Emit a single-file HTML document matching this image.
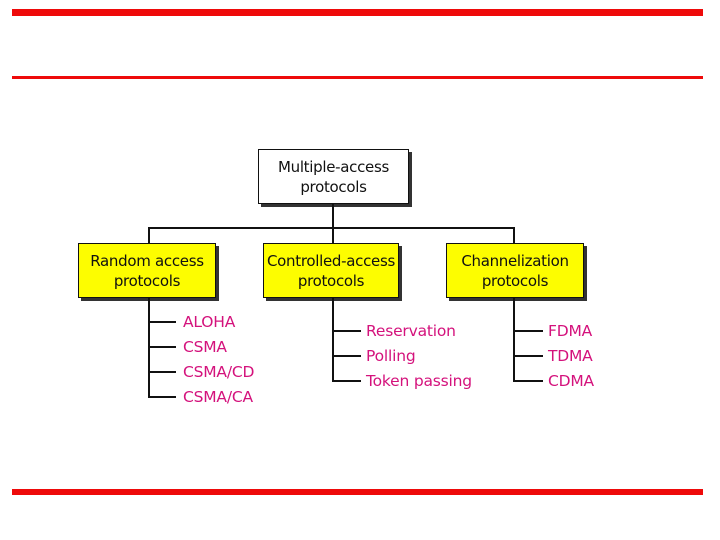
<!DOCTYPE html>
<html><head><style>
body{margin:0;width:720px;height:540px;background:#fff;position:relative;overflow:hidden;font-family:"DejaVu Sans","Liberation Sans",sans-serif;}
.bar{position:absolute;left:12px;width:691px;background:#ee0a0a;}
.box{position:absolute;border:1.5px solid #111;box-shadow:3px 3px 0 #333;display:flex;align-items:center;justify-content:center;text-align:center;font-size:15px;line-height:20px;color:#111;box-sizing:border-box;letter-spacing:-0.3px}
.y{background:#fdfd00}
.l{position:absolute;background:#111}
.t{position:absolute;color:#d4127c;font-size:15.5px;line-height:18px;letter-spacing:-0.2px}
</style></head><body>
<div class="bar" style="top:9px;height:7px"></div>
<div class="bar" style="top:76px;height:3px"></div>
<div class="bar" style="top:489px;height:6px"></div>

<div class="box" style="left:258px;top:149px;width:151px;height:55px;background:#fff">Multiple-access<br>protocols</div>
<div class="box y" style="left:78px;top:243px;width:138px;height:55px">Random access<br>protocols</div>
<div class="box y" style="left:263px;top:243px;width:136px;height:55px">Controlled-access<br>protocols</div>
<div class="box y" style="left:446px;top:243px;width:138px;height:55px">Channelization<br>protocols</div>

<div class="l" style="left:332px;top:204px;width:2px;height:39px"></div>
<div class="l" style="left:148px;top:227px;width:367px;height:2px"></div>
<div class="l" style="left:148px;top:227px;width:2px;height:16px"></div>
<div class="l" style="left:513px;top:227px;width:2px;height:16px"></div>

<div class="l" style="left:148px;top:298px;width:2px;height:100px"></div>
<div class="l" style="left:148px;top:321px;width:28px;height:2px"></div>
<div class="l" style="left:148px;top:346px;width:28px;height:2px"></div>
<div class="l" style="left:148px;top:371px;width:28px;height:2px"></div>
<div class="l" style="left:148px;top:396px;width:28px;height:2px"></div>
<div class="t" style="left:183px;top:313px">ALOHA</div>
<div class="t" style="left:183px;top:338px">CSMA</div>
<div class="t" style="left:183px;top:363px">CSMA/CD</div>
<div class="t" style="left:183px;top:388px">CSMA/CA</div>

<div class="l" style="left:332px;top:298px;width:2px;height:84px"></div>
<div class="l" style="left:332px;top:330px;width:29px;height:2px"></div>
<div class="l" style="left:332px;top:355px;width:29px;height:2px"></div>
<div class="l" style="left:332px;top:380px;width:29px;height:2px"></div>
<div class="t" style="left:366px;top:322px">Reservation</div>
<div class="t" style="left:366px;top:347px">Polling</div>
<div class="t" style="left:366px;top:372px">Token passing</div>

<div class="l" style="left:513px;top:298px;width:2px;height:84px"></div>
<div class="l" style="left:513px;top:330px;width:30px;height:2px"></div>
<div class="l" style="left:513px;top:355px;width:30px;height:2px"></div>
<div class="l" style="left:513px;top:380px;width:30px;height:2px"></div>
<div class="t" style="left:548px;top:322px">FDMA</div>
<div class="t" style="left:548px;top:347px">TDMA</div>
<div class="t" style="left:548px;top:372px">CDMA</div>
</body></html>
